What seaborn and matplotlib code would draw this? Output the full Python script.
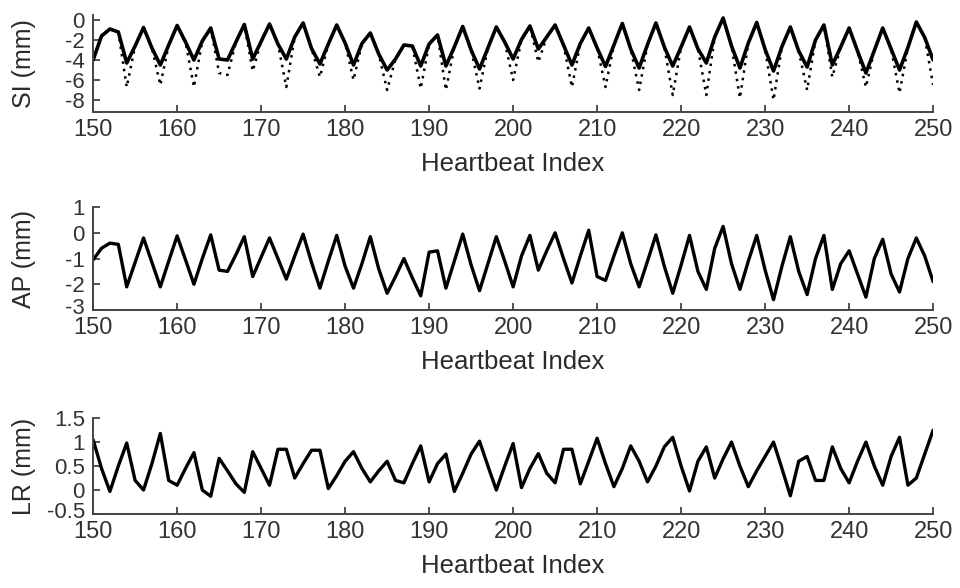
import numpy as np
import pandas as pd
import matplotlib
matplotlib.use("Agg")
import matplotlib.pyplot as plt
import matplotlib.transforms as mtransforms
import seaborn as sns

# Heartbeat index (x axis)
heartbeat = list(range(150, 251))

# SI motion (mm) - solid line
si_mean = [-4.0, -1.6, -0.9, -1.2, -4.3, -2.6, -0.75, -2.8, -4.5, -2.5,
           -0.55, -2.2, -4.0, -2.1, -0.8, -3.9, -4.0, -2.2, -0.45, -3.9,
           -2.15, -0.4, -2.4, -3.9, -1.7, -0.3, -2.85, -4.4, -2.4, -0.5,
           -2.3, -4.5, -2.35, -1.3, -3.4, -5.0, -3.9, -2.5, -2.6, -4.6,
           -2.4, -1.5, -4.6, -2.7, -0.65, -3.0, -4.9, -2.8, -0.7, -2.2,
           -3.9, -1.95, -0.6, -2.9, -1.7, -0.5, -2.5, -4.5, -2.35, -0.8,
           -2.8, -4.65, -2.5, -0.35, -2.9, -4.8, -2.45, -0.3, -2.7, -4.6,
           -2.7, -0.7, -2.88, -4.3, -1.7, 0.2, -2.6, -4.8, -2.3, -0.25,
           -2.95, -5.1, -2.66, -0.7, -3.1, -4.7, -2.0, -0.5, -4.5, -2.7,
           -0.8, -3.1, -5.3, -3.05, -0.8, -2.9, -5.0, -2.75, -0.2, -1.75,
           -4.0]

# SI motion (mm) - dotted line (deeper troughs)
si_samples = [-4.0, -1.6, -0.9, -1.2, -6.7, -2.6, -0.75, -2.8, -6.5, -2.5,
              -0.55, -2.2, -6.7, -2.1, -0.8, -5.3, -5.5, -2.2, -0.45, -5.1,
              -2.15, -0.4, -2.4, -6.7, -1.7, -0.3, -2.85, -5.7, -2.4, -0.5,
              -2.3, -6.0, -2.35, -1.3, -3.4, -7.0, -3.9, -2.5, -2.6, -6.85,
              -2.4, -1.5, -7.0, -2.7, -0.65, -3.0, -6.85, -2.8, -0.7, -2.2,
              -6.0, -1.95, -0.6, -4.2, -1.7, -0.5, -2.5, -6.7, -2.35, -0.8,
              -2.8, -6.7, -2.5, -0.35, -2.9, -7.0, -2.45, -0.3, -2.7, -7.5,
              -2.7, -0.7, -2.88, -7.5, -1.7, 0.2, -2.6, -7.8, -2.3, -0.25,
              -2.95, -8.0, -2.66, -0.7, -3.1, -7.0, -2.0, -0.5, -5.7, -2.7,
              -0.8, -3.1, -6.7, -3.05, -0.8, -2.9, -7.3, -2.75, -0.2, -1.75,
              -6.5]

# AP motion (mm)
ap_motion = [-1.05, -0.6, -0.4, -0.45, -2.1, -1.15, -0.2, -1.15, -2.1, -1.1,
             -0.12, -1.05, -2.0, -1.0, -0.08, -1.45, -1.5, -0.85, -0.15, -1.7,
             -0.95, -0.2, -1.0, -1.8, -0.9, -0.05, -1.15, -2.15, -1.1, -0.1,
             -1.3, -2.15, -1.2, -0.15, -1.4, -2.35, -1.7, -1.0, -1.75, -2.45,
             -0.75, -0.7, -2.15, -1.1, -0.05, -1.25, -2.25, -1.2, -0.15, -1.1,
             -2.1, -0.9, -0.1, -1.45, -0.7, 0.0, -1.0, -1.95, -0.9, 0.1,
             -1.7, -1.85, -0.9, 0.0, -1.2, -2.1, -1.1, -0.08, -1.3, -2.35,
             -1.25, -0.1, -1.5, -2.2, -0.6, 0.25, -1.2, -2.2, -1.1, -0.1,
             -1.45, -2.6, -1.3, -0.15, -1.5, -2.4, -1.0, -0.1, -2.2, -1.2,
             -0.7, -1.6, -2.5, -1.0, -0.25, -1.6, -2.3, -1.0, -0.2, -0.9,
             -1.9]

# LR motion (mm)
lr_motion = [1.05, 0.45, -0.03, 0.5, 0.98, 0.2, 0.0, 0.55, 1.18, 0.2,
             0.1, 0.45, 0.78, 0.0, -0.13, 0.66, 0.4, 0.13, -0.05, 0.8,
             0.45, 0.1, 0.85, 0.85, 0.25, 0.55, 0.83, 0.83, 0.03, 0.3,
             0.6, 0.8, 0.45, 0.17, 0.4, 0.6, 0.2, 0.15, 0.55, 0.92,
             0.17, 0.55, 0.75, -0.03, 0.35, 0.75, 1.02, 0.5, 0.0, 0.5,
             0.97, 0.05, 0.45, 0.76, 0.35, 0.15, 0.85, 0.85, 0.13, 0.6,
             1.08, 0.55, 0.07, 0.45, 0.92, 0.6, 0.17, 0.5, 0.9, 1.1,
             0.5, -0.02, 0.6, 0.9, 0.25, 0.65, 1.0, 0.5, 0.07, 0.4,
             0.7, 1.0, 0.45, -0.12, 0.6, 0.7, 0.2, 0.2, 0.9, 0.45,
             0.15, 0.6, 1.0, 0.5, 0.1, 0.7, 1.1, 0.1, 0.25, 0.75,
             1.25]

xticks = list(range(150, 251, 10))
si_yticks = [0, -2, -4, -6, -8]
ap_yticks = [1, 0, -1, -2, -3]
lr_yticks = [1.5, 1, 0.5, 0, -0.5]
lr_yticklabels = ["1.5", "1", "0.5", "0", "-0.5"]

sns.set_style("ticks")
plt.rcParams["font.family"] = ["Liberation Sans", "DejaVu Sans"]
text_color = "#1e1e1e"
plt.rcParams["text.color"] = text_color
plt.rcParams["axes.labelcolor"] = "#2a2a2a"
plt.rcParams["xtick.color"] = "#333333"
plt.rcParams["ytick.color"] = "#333333"

df = pd.DataFrame({"Heartbeat": heartbeat, "SI": si_mean, "SIs": si_samples,
                   "AP": ap_motion, "LR": lr_motion})

fig = plt.figure(figsize=(9.6, 5.88), dpi=100)
left, width = 0.097, 0.875
ax_si = fig.add_axes([left, 0.8095, width, 0.165])
ax_ap = fig.add_axes([left, 0.4728, width, 0.175])
ax_lr = fig.add_axes([left, 0.1259, width, 0.163])

sns.lineplot(data=df, x="Heartbeat", y="SIs", ax=ax_si, color="black",
             linestyle=(0, (1, 2)), linewidth=1.8)
sns.lineplot(data=df, x="Heartbeat", y="SI", ax=ax_si, color="black", linewidth=2.6)
sns.lineplot(data=df, x="Heartbeat", y="AP", ax=ax_ap, color="black", linewidth=2.4)
sns.lineplot(data=df, x="Heartbeat", y="LR", ax=ax_lr, color="black", linewidth=2.4)

specs = [
    (ax_si, "SI (mm)", (-9.2, 0.5), si_yticks, [str(t) for t in si_yticks], 0),
    (ax_ap, "AP (mm)", (-3, 1), ap_yticks, [str(t) for t in ap_yticks], 3),
    (ax_lr, "LR (mm)", (-0.5, 1.5), lr_yticks, lr_yticklabels, 3),
]
for ax, ylab, ylim, yt, ytl, lift in specs:
    ax.set_xlim(150, 250)
    ax.set_ylim(*ylim)
    ax.set_xticks(xticks)
    ax.set_xticklabels([str(t) for t in xticks], fontsize=17)
    ax.set_yticks(yt)
    ax.set_yticklabels(ytl, fontsize=16)
    ax.tick_params(direction="in", length=5, width=1.2)
    ax.tick_params(axis="x", pad=5)
    ax.tick_params(axis="y", pad=6)
    ax.set_xlabel("Heartbeat Index", fontsize=18.5, labelpad=8)
    ax.set_ylabel(ylab, fontsize=18, labelpad=6)
    ax.yaxis.set_label_coords(-0.068, 0.5)
    for s in ("top", "right"):
        ax.spines[s].set_visible(False)
    for s in ("left", "bottom"):
        ax.spines[s].set_linewidth(1.4)
        ax.spines[s].set_color("#444444")
    ax.set_facecolor("white")
    if lift:
        # lift the lowest y tick label a little so it clears the "150" label
        low = ax.get_yticklabels()[-1]
        low.set_transform(low.get_transform() +
                          mtransforms.ScaledTranslation(0, lift / 72, fig.dpi_scale_trans))

fig.savefig("out.png", dpi=100, facecolor="white")
